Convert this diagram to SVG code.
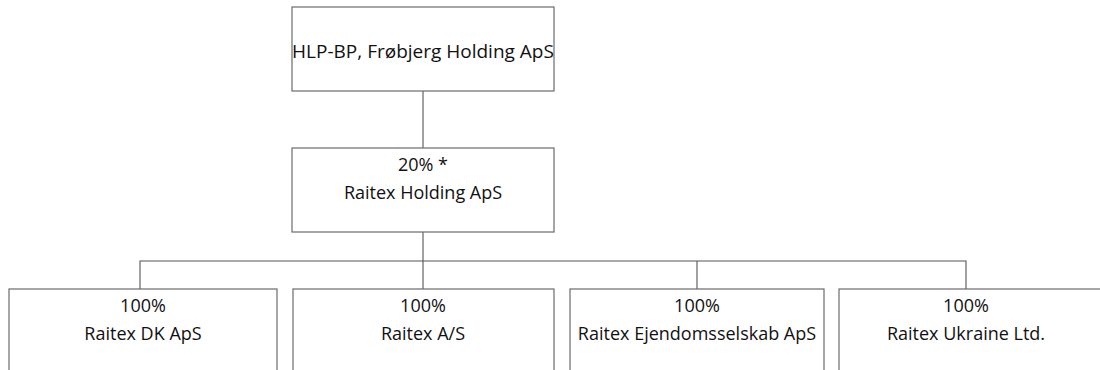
<svg xmlns="http://www.w3.org/2000/svg" width="1100" height="370" viewBox="0 0 1100 370">
<style>
.box{fill:#fff;stroke:#6b6b6b;stroke-width:1.2}
.con{fill:none;stroke:#555;stroke-width:1.1}
text{font-family:"Open Sans","Liberation Sans",sans-serif;font-size:18px;fill:#111;text-anchor:middle}
.title{font-size:19px}
</style>
<rect width="1100" height="370" fill="#fff"/>
<g id="connectors">
<line class="con" x1="423" y1="91" x2="423" y2="148"/>
<line class="con" x1="423" y1="232" x2="423" y2="261"/>
<polyline class="con" points="140,289 140,261 966,261 966,289"/>
<line class="con" x1="423" y1="261" x2="423" y2="289"/>
<line class="con" x1="697" y1="261" x2="697" y2="289"/>
</g>
<g id="n-hlp">
<rect class="box" x="292" y="7" width="262" height="84"/>
<text class="title" x="423" y="58">HLP-BP, Frøbjerg Holding ApS</text>
</g>
<g id="n-raitex-holding">
<rect class="box" x="292" y="148" width="262" height="84"/>
<text x="423" y="171">20% *</text>
<text x="423" y="199">Raitex Holding ApS</text>
</g>
<g id="n-dk">
<rect class="box" x="9" y="289" width="268" height="100"/>
<text x="143" y="312">100%</text>
<text x="143" y="340">Raitex DK ApS</text>
</g>
<g id="n-as">
<rect class="box" x="293" y="289" width="261" height="100"/>
<text x="423" y="312">100%</text>
<text x="423" y="340">Raitex A/S</text>
</g>
<g id="n-ejendom">
<rect class="box" x="570" y="289" width="254" height="100"/>
<text x="697" y="312">100%</text>
<text x="697" y="340">Raitex Ejendomsselskab ApS</text>
</g>
<g id="n-ukraine">
<rect class="box" x="839" y="289" width="270" height="100"/>
<text x="966" y="312">100%</text>
<text x="966" y="340">Raitex Ukraine Ltd.</text>
</g>
</svg>
